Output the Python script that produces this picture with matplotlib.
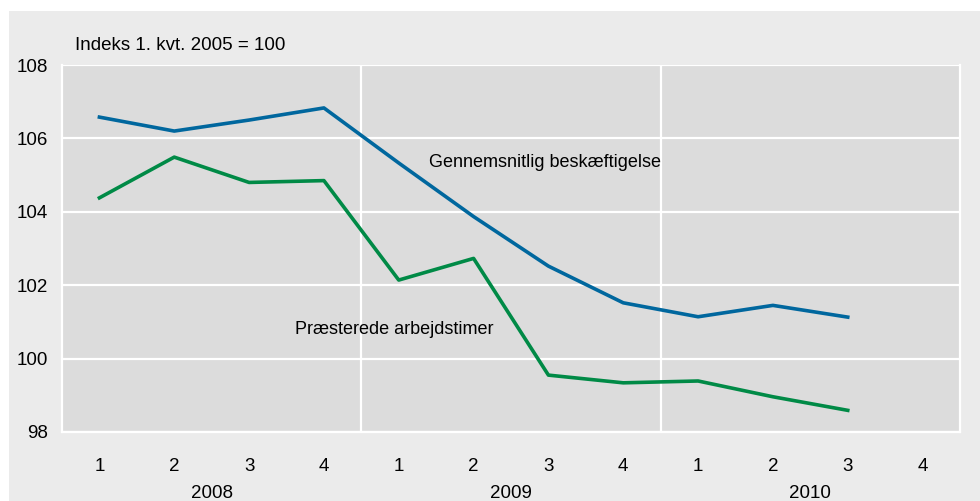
import matplotlib.pyplot as plt
from matplotlib.patches import Rectangle
from matplotlib.transforms import blended_transform_factory

plt.rcParams['font.family'] = ['Liberation Sans', 'DejaVu Sans']

quarters = ['1', '2', '3', '4', '1', '2', '3', '4', '1', '2', '3', '4']
years = ['2008', '2009', '2010']
beskaeftigelse = [106.58, 106.2, 106.5, 106.83, 105.33, 103.87, 102.52, 101.52, 101.14, 101.45, 101.13]
arbejdstimer = [104.38, 105.49, 104.8, 104.85, 102.14, 102.73, 99.55, 99.34, 99.39, 98.96, 98.59]

blue = '#00679e'
green = '#008a46'

fig = plt.figure(figsize=(9.8, 5.01), dpi=100)
fig.patch.set_facecolor('white')
fig.patches.append(Rectangle((9 / 980, 0), 1, 1 - 11 / 501, transform=fig.transFigure,
                             facecolor='#ebebeb', edgecolor='none', zorder=-5))

ax = fig.add_axes([62 / 980, 1 - 432 / 501, 898 / 980, 367 / 501])
ax.set_zorder(2)
ax.set_facecolor('#dcdcdc')

x = list(range(1, 13))
ax.plot(x[:len(beskaeftigelse)], beskaeftigelse, color=blue, lw=2.6, zorder=3)
ax.plot(x[:len(arbejdstimer)], arbejdstimer, color=green, lw=2.6, zorder=3)

ax.set_xlim(0.5, 12.5)
ax.set_ylim(98, 108)
ax.set_yticks([98, 100, 102, 104, 106, 108])
ax.set_xticks(x)
ax.set_xticklabels(quarters)
ax.tick_params(length=0, labelsize=13.5, colors='black')
ax.tick_params(axis='x', pad=19)
ax.tick_params(axis='y', pad=10)

ax.grid(axis='y', color='white', lw=1.6)
for xv in [4.5, 8.5]:
    ax.axvline(xv, color='white', lw=1.6, zorder=1)
ax.set_axisbelow(True)
for s in ['left', 'bottom', 'right']:
    ax.spines[s].set_color('white')
    ax.spines[s].set_linewidth(1.6)
ax.spines['top'].set_visible(False)

trans = blended_transform_factory(ax.transData, fig.transFigure)
for i, yr in enumerate(years):
    ax.text(2.5 + 4 * i, 1 - 493 / 501, yr, transform=trans, ha='center', va='center',
            fontsize=13.5)

ax.text(5.4, 105.35, 'Gennemsnitlig beskæftigelse', fontsize=13, va='center', ha='left')
ax.text(3.62, 100.8, 'Præsterede arbejdstimer', fontsize=13, va='center', ha='left')
fig.text(75 / 980, 1 - 46 / 501, 'Indeks 1. kvt. 2005 = 100', fontsize=13.5, va='center', ha='left')

fig.savefig('out.png', dpi=100)
